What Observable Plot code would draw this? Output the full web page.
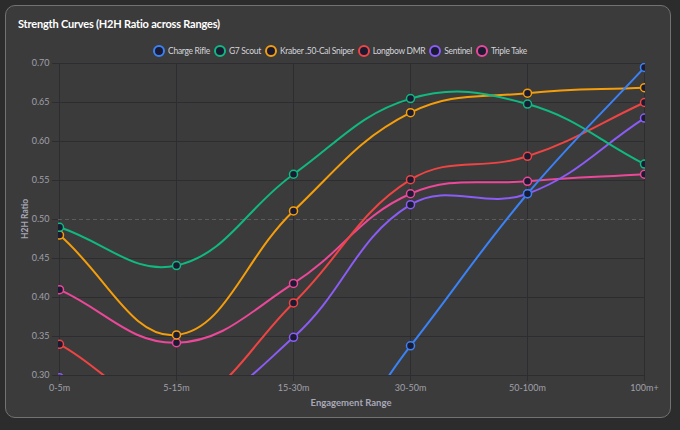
<!DOCTYPE html>
<html>
<head>
<meta charset="utf-8">
<script src="https://cdn.jsdelivr.net/npm/d3@7"></script>
<script src="https://cdn.jsdelivr.net/npm/@observablehq/plot@0.6"></script>
<style>
  html, body { margin: 0; padding: 0; }
  body { width: 680px; height: 430px; overflow: hidden; position: relative; background: #2c2c2c; font-family: Lato, "Noto Sans", sans-serif; }
  #card { position: absolute; left: 5px; top: 5px; width: 666px; height: 413px; border: 1px solid #727272; border-radius: 10px; background: #3b3b3b; box-sizing: border-box; }
  #title { position: absolute; left: 18px; top: 17px; color: #ffffff; font-size: 11px; font-weight: 700; letter-spacing: -0.2px; }
  #legend { position: absolute; left: 0; top: 45px; width: 680px; display: flex; justify-content: center; align-items: center; gap: 4px; color: #d4d4da; font-size: 8.5px; letter-spacing: -0.3px; }
  .item { display: flex; align-items: center; gap: 3px; }
  .sw { width: 12px; height: 12px; border-radius: 50%; border: 2px solid; background: #1a1a33; box-sizing: border-box; }
  #chart { position: absolute; left: 0; top: 55px; }
  #ylabel { position: absolute; left: 25px; top: 219px; transform: translate(-50%, -50%) rotate(-90deg); color: #a8a8b8; font-size: 8.5px; font-weight: 700; white-space: nowrap; }
  #xlabel { position: absolute; left: 351px; top: 402px; transform: translate(-50%, -50%); color: #a8a8b8; font-size: 9.5px; font-weight: 700; white-space: nowrap; }
</style>
</head>
<body>
<div id="card"></div>
<div id="title">Strength Curves (H2H Ratio across Ranges)</div>
<div id="legend"></div>
<div id="chart"></div>
<div id="ylabel">H2H Ratio</div>
<div id="xlabel">Engagement Range</div>
<script>
const ranges = ["0-5m", "5-15m", "15-30m", "30-50m", "50-100m", "100m+"];
const weapons = ["Charge Rifle", "G7 Scout", "Kraber .50-Cal Sniper", "Longbow DMR", "Sentinel", "Triple Take"];
const colors = ["#3b82f6", "#10b981", "#f59e0b", "#ef4444", "#8b5cf6", "#ec4899"];
const chargeRifle = [0.10, 0.12, 0.15, 0.338, 0.533, 0.695];
const g7Scout     = [0.490, 0.441, 0.558, 0.655, 0.648, 0.571];
const kraber      = [0.480, 0.352, 0.511, 0.637, 0.662, 0.669];
const longbow     = [0.340, 0.26, 0.393, 0.551, 0.581, 0.650];
const sentinel    = [0.297, 0.25, 0.349, 0.519, 0.533, 0.630];
const tripleTake  = [0.410, 0.342, 0.418, 0.533, 0.549, 0.558];
const yTicks = [0.30, 0.35, 0.40, 0.45, 0.50, 0.55, 0.60, 0.65, 0.70];

const series = [chargeRifle, g7Scout, kraber, longbow, sentinel, tripleTake];
const rows = [];
// reverse order so the first dataset is drawn on top
for (let s = series.length - 1; s >= 0; s--) {
  series[s].forEach((v, i) => rows.push({weapon: weapons[s], range: ranges[i], value: v}));
}

const legend = document.getElementById("legend");
weapons.forEach((w, i) => {
  const it = document.createElement("div");
  it.className = "item";
  const sw = document.createElement("span");
  sw.className = "sw";
  sw.style.borderColor = colors[i];
  const t = document.createElement("span");
  t.textContent = w;
  it.appendChild(sw); it.appendChild(t);
  legend.appendChild(it);
});

const W = 680, H = 360, ML = 58, MR = 35, MT = 8, MB = 40;
const area = {left: ML, right: W - MR, top: MT, bottom: H - MB};

// spline curve with tension 0.4 and control points capped to the plot area
function makeSpline(tension) {
  return function(context) {
    return {
      _ctx: context,
      areaStart() { this._line = 0; },
      areaEnd() { this._line = NaN; },
      lineStart() { this._pts = []; },
      point(x, y) { this._pts.push({x: +x, y: +y}); },
      lineEnd() {
        const p = this._pts, n = p.length, ctx = this._ctx;
        if (!n) return;
        for (let i = 0; i < n; i++) {
          const prev = i > 0 ? p[i - 1] : p[i];
          const cur = p[i];
          const next = i < n - 1 ? p[i + 1] : p[i];
          const d01 = Math.hypot(cur.x - prev.x, cur.y - prev.y);
          const d12 = Math.hypot(next.x - cur.x, next.y - cur.y);
          let s01 = d01 / (d01 + d12), s12 = d12 / (d01 + d12);
          if (isNaN(s01)) s01 = 0;
          if (isNaN(s12)) s12 = 0;
          const fa = tension * s01, fb = tension * s12;
          cur.c1x = cur.x - fa * (next.x - prev.x);
          cur.c1y = cur.y - fa * (next.y - prev.y);
          cur.c2x = cur.x + fb * (next.x - prev.x);
          cur.c2y = cur.y + fb * (next.y - prev.y);
        }
        const inA = q => q.x >= area.left - 0.5 && q.x <= area.right + 0.5 && q.y >= area.top - 0.5 && q.y <= area.bottom + 0.5;
        const cl = (v, a, b) => Math.max(a, Math.min(b, v));
        for (let i = 0; i < n; i++) {
          if (!inA(p[i])) continue;
          if (i > 0 && inA(p[i - 1])) { p[i].c1x = cl(p[i].c1x, area.left, area.right); p[i].c1y = cl(p[i].c1y, area.top, area.bottom); }
          if (i < n - 1 && inA(p[i + 1])) { p[i].c2x = cl(p[i].c2x, area.left, area.right); p[i].c2y = cl(p[i].c2y, area.top, area.bottom); }
        }
        ctx.moveTo(p[0].x, p[0].y);
        for (let i = 1; i < n; i++) {
          ctx.bezierCurveTo(p[i - 1].c2x, p[i - 1].c2y, p[i].c1x, p[i].c1y, p[i].x, p[i].y);
        }
        if (this._line === 0) ctx.closePath();
      }
    };
  };
}

const grid = "#2c2c31";
const chart = Plot.plot({
  width: W,
  height: H,
  marginLeft: ML,
  marginRight: MR,
  marginTop: MT,
  marginBottom: MB,
  style: {background: "transparent", color: "#a0a0aa", fontFamily: "Lato, 'Noto Sans', sans-serif", fontSize: "9px", overflow: "visible"},
  x: {type: "point", domain: ranges, padding: 0, label: null},
  y: {domain: [0.30, 0.70], label: null},
  color: {domain: weapons, range: colors},
  marks: [
    Plot.ruleY(yTicks.filter(d => d !== 0.50), {stroke: grid, strokeWidth: 1}),
    Plot.ruleX(ranges, {stroke: grid, strokeWidth: 1}),
    Plot.ruleY([0.50], {stroke: "#5a5a60", strokeWidth: 1, strokeDasharray: "4,3"}),
    Plot.line(rows, {x: "range", y: "value", z: "weapon", stroke: "weapon", strokeWidth: 2, curve: makeSpline(0.4), clip: true}),
    Plot.dot(rows, {x: "range", y: "value", stroke: "weapon", fill: "#1a1a33", r: 4, strokeWidth: 1.5, clip: true}),
    Plot.axisX({tickSize: 6, tickPadding: 3, stroke: grid, fill: "#a0a0aa", label: null}),
    Plot.axisY({ticks: yTicks, tickFormat: ".2f", tickSize: 6, tickPadding: 3, stroke: grid, fill: "#a0a0aa", label: null})
  ]
});
document.getElementById("chart").appendChild(chart);
</script>
</body>
</html>
